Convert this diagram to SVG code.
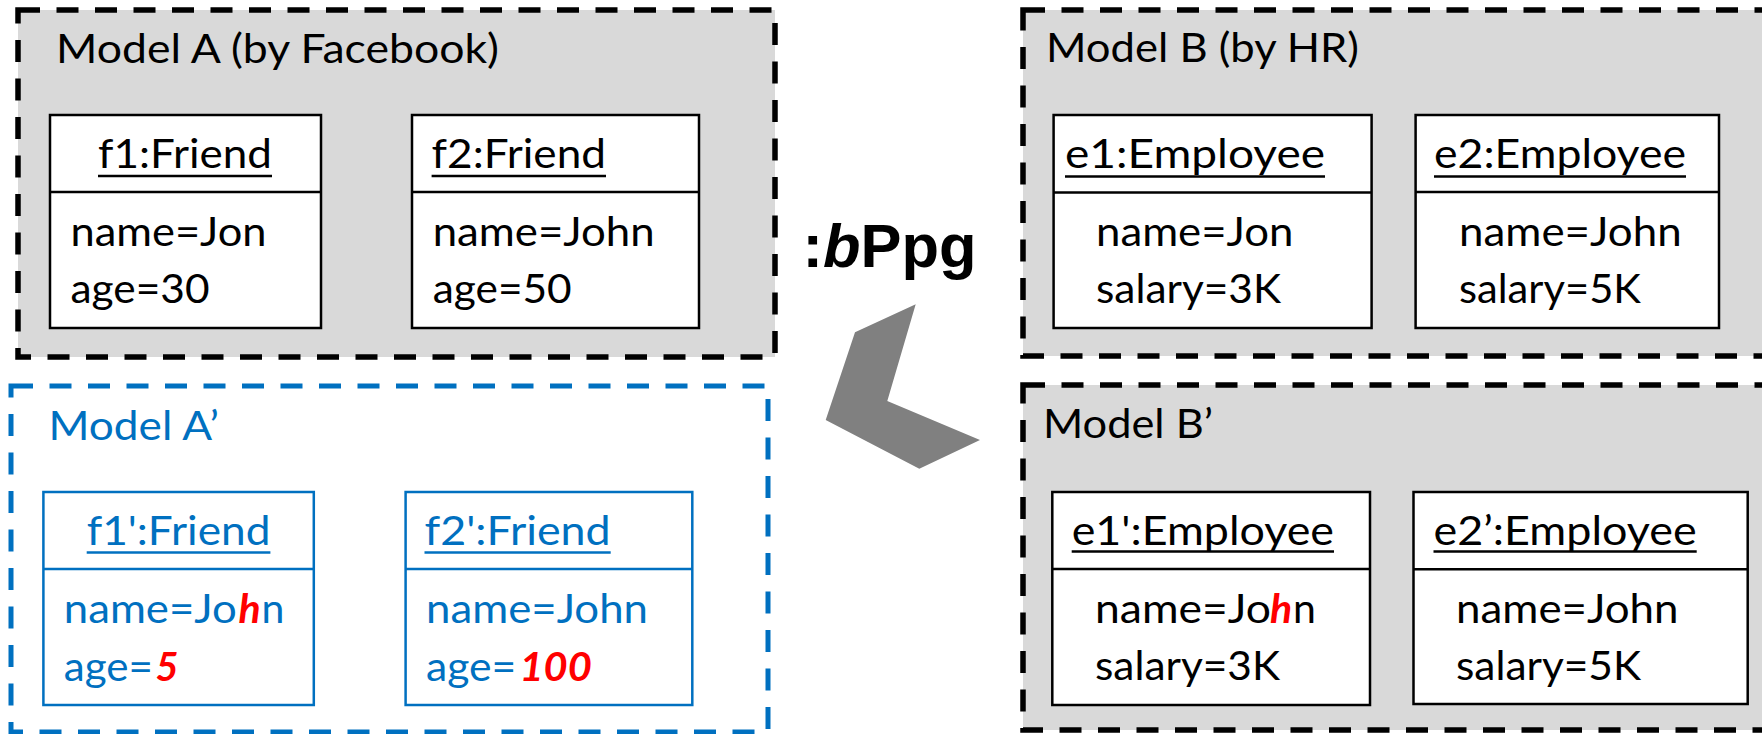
<svg xmlns="http://www.w3.org/2000/svg" width="1762" height="734" viewBox="0 0 1762 734">
  <style>
    .frame { fill: #D9D9D9; stroke: #000; stroke-width: 5.5; stroke-dasharray: 22 16.5; }
    .frame-new { fill: #FFF; stroke: #0070C0; stroke-width: 5; stroke-dasharray: 22 16.5; }
    .obj { fill: #FFF; stroke: #000; stroke-width: 2.5; }
    .obj-new { fill: #FFF; stroke: #0070C0; stroke-width: 2.5; }
    .sep { stroke: #000; stroke-width: 2.5; }
    .sep-new { stroke: #0070C0; stroke-width: 2.5; }
    .ul { stroke: #000; stroke-width: 2.5; }
    .ul-new { stroke: #0070C0; stroke-width: 2.5; }
    text { font-family: Lato, "Open Sans", "Liberation Sans", sans-serif; font-size: 41px; fill: #000; }
    .blue { fill: #0070C0; }
    .chg { fill: #FF0000; font-weight: bold; font-style: italic; }
    .op { font-family: "Liberation Sans", Arial, sans-serif; font-weight: bold; font-size: 61px; }
  </style>

  <!-- Model A (source, Facebook) -->
  <g id="modelA">
    <rect class="frame" x="18" y="10" width="757" height="347"/>
    <text x="56" y="62.5" textLength="443" lengthAdjust="spacingAndGlyphs">Model A (by Facebook)</text>
  </g>
  <g id="f1">
    <rect class="obj" x="50" y="115" width="271" height="213"/>
    <line class="sep" x1="50" y1="192" x2="321" y2="192"/>
    <text x="98" y="168" textLength="174" lengthAdjust="spacingAndGlyphs">f1:Friend</text>
    <line class="ul" x1="98" y1="176" x2="272" y2="176"/>
    <text x="70.5" y="246" textLength="196" lengthAdjust="spacingAndGlyphs">name=Jon</text>
    <text x="70.5" y="303" textLength="139" lengthAdjust="spacingAndGlyphs">age=30</text>
  </g>
  <g id="f2">
    <rect class="obj" x="412" y="115" width="287" height="213"/>
    <line class="sep" x1="412" y1="192" x2="699" y2="192"/>
    <text x="431.6" y="168" textLength="174.4" lengthAdjust="spacingAndGlyphs">f2:Friend</text>
    <line class="ul" x1="431.6" y1="176" x2="606" y2="176"/>
    <text x="432.7" y="246" textLength="222" lengthAdjust="spacingAndGlyphs">name=John</text>
    <text x="432.7" y="303" textLength="139" lengthAdjust="spacingAndGlyphs">age=50</text>
  </g>

  <!-- Model A' (result) -->
  <g id="modelA2">
    <rect class="frame-new" x="11" y="386" width="757" height="346"/>
    <text class="blue" x="48.5" y="440" textLength="170.5" lengthAdjust="spacingAndGlyphs">Model A’</text>
  </g>
  <g id="f1p">
    <rect class="obj-new" x="43.4" y="492" width="270.4" height="213"/>
    <line class="sep-new" x1="43.4" y1="569" x2="313.8" y2="569"/>
    <text class="blue" x="86.7" y="545" textLength="183.7" lengthAdjust="spacingAndGlyphs">f1':Friend</text>
    <line class="ul-new" x1="86.7" y1="552.5" x2="270.4" y2="552.5"/>
    <text class="blue" x="63.8" y="623" textLength="173" lengthAdjust="spacingAndGlyphs">name=Jo</text>
    <text class="chg" x="238.5" y="623">h</text>
    <text class="blue" x="261.5" y="623">n</text>
    <text class="blue" x="63.8" y="681" textLength="89.2" lengthAdjust="spacingAndGlyphs">age=</text>
    <text class="chg" x="155.6" y="681" textLength="23" lengthAdjust="spacingAndGlyphs">5</text>
  </g>
  <g id="f2p">
    <rect class="obj-new" x="405.6" y="492" width="286.7" height="213"/>
    <line class="sep-new" x1="405.6" y1="569" x2="692.3" y2="569"/>
    <text class="blue" x="424.5" y="545" textLength="186.2" lengthAdjust="spacingAndGlyphs">f2':Friend</text>
    <line class="ul-new" x1="424.5" y1="552.5" x2="610.7" y2="552.5"/>
    <text class="blue" x="426" y="623" textLength="222" lengthAdjust="spacingAndGlyphs">name=John</text>
    <text class="blue" x="426" y="681" textLength="90.3" lengthAdjust="spacingAndGlyphs">age=</text>
    <text class="chg" x="519.4" y="681" textLength="72.4" lengthAdjust="spacingAndGlyphs">100</text>
  </g>

  <!-- Model B (source, HR) -->
  <g id="modelB">
    <rect class="frame" x="1023" y="10" width="800" height="346"/>
    <text x="1046" y="62" textLength="313" lengthAdjust="spacingAndGlyphs">Model B (by HR)</text>
  </g>
  <g id="e1">
    <rect class="obj" x="1053.6" y="115" width="318" height="213"/>
    <line class="sep" x1="1053.6" y1="192.5" x2="1371.6" y2="192.5" stroke-width="4"/>
    <text x="1065" y="168" textLength="260" lengthAdjust="spacingAndGlyphs">e1:Employee</text>
    <line class="ul" x1="1065" y1="176.5" x2="1325" y2="176.5"/>
    <text x="1096" y="246" textLength="197.5" lengthAdjust="spacingAndGlyphs">name=Jon</text>
    <text x="1096" y="303" textLength="185" lengthAdjust="spacingAndGlyphs">salary=3K</text>
  </g>
  <g id="e2">
    <rect class="obj" x="1415.6" y="115" width="303.4" height="213"/>
    <line class="sep" x1="1415.6" y1="192" x2="1719" y2="192"/>
    <text x="1434" y="168" textLength="252" lengthAdjust="spacingAndGlyphs">e2:Employee</text>
    <line class="ul" x1="1434" y1="176.5" x2="1686" y2="176.5"/>
    <text x="1459" y="246" textLength="222.7" lengthAdjust="spacingAndGlyphs">name=John</text>
    <text x="1459" y="303" textLength="182" lengthAdjust="spacingAndGlyphs">salary=5K</text>
  </g>

  <!-- Model B' (result) -->
  <g id="modelB2">
    <rect class="frame" x="1023" y="385" width="800" height="345"/>
    <text x="1043" y="438" textLength="170" lengthAdjust="spacingAndGlyphs">Model B’</text>
  </g>
  <g id="e1p">
    <rect class="obj" x="1052.3" y="492" width="317.7" height="213"/>
    <line class="sep" x1="1052.3" y1="569" x2="1370" y2="569"/>
    <text x="1071.7" y="545" textLength="262.3" lengthAdjust="spacingAndGlyphs">e1':Employee</text>
    <line class="ul" x1="1071.7" y1="551.5" x2="1334" y2="551.5"/>
    <text x="1095" y="623" textLength="176" lengthAdjust="spacingAndGlyphs">name=Jo</text>
    <text class="chg" x="1270" y="623">h</text>
    <text x="1293" y="623">n</text>
    <text x="1095" y="680" textLength="185" lengthAdjust="spacingAndGlyphs">salary=3K</text>
  </g>
  <g id="e2p">
    <rect class="obj" x="1413.5" y="492" width="334.2" height="212"/>
    <line class="sep" x1="1413.5" y1="569.3" x2="1747.7" y2="569.3"/>
    <text x="1433.5" y="545" textLength="263.2" lengthAdjust="spacingAndGlyphs">e2’:Employee</text>
    <line class="ul" x1="1433.5" y1="551.5" x2="1696.7" y2="551.5"/>
    <text x="1456" y="623" textLength="222.6" lengthAdjust="spacingAndGlyphs">name=John</text>
    <text x="1456" y="680" textLength="185" lengthAdjust="spacingAndGlyphs">salary=5K</text>
  </g>

  <!-- backward propagation operator, B' back to A' -->
  <g id="connectors">
    <text class="op" x="802.5" y="267" textLength="174" lengthAdjust="spacingAndGlyphs">:<tspan font-style="italic">b</tspan>Ppg</text>
    <polygon points="855,332.3 915.7,304.3 887.3,401 980,440 919.3,468.7 825.7,420" fill="#808080"/>
  </g>
</svg>
